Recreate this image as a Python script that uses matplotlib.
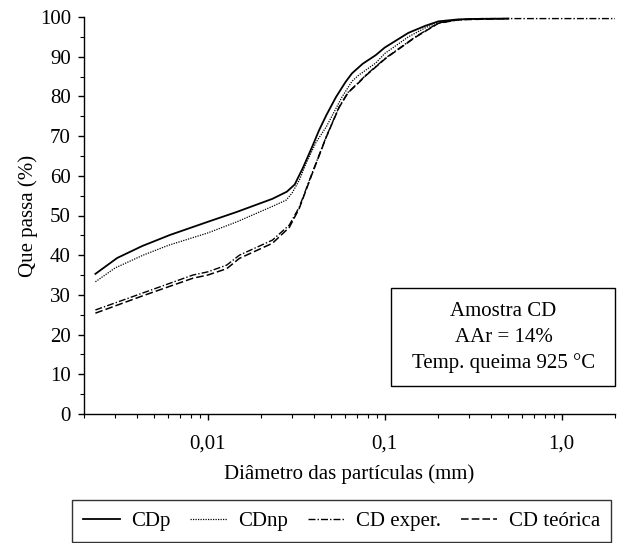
import matplotlib
matplotlib.use("Agg")
import matplotlib.pyplot as plt
from matplotlib.ticker import LogLocator, MultipleLocator, NullFormatter
from matplotlib.patches import Rectangle

plt.rcParams['font.family'] = ['Liberation Serif', 'DejaVu Serif']
plt.rcParams['font.size'] = 15

# Curvas granulométricas - amostra CD (diâmetro em mm, % que passa)
d_cdp = [0.00232, 0.00308, 0.00426, 0.00612, 0.0100, 0.0146, 0.0232, 0.0280, 0.0310,
         0.0345, 0.0389, 0.0426, 0.0467, 0.0530, 0.0600, 0.0653, 0.0750, 0.089, 0.100,
         0.136, 0.170, 0.201, 0.260, 0.308, 0.5]
p_cdp = [35.3, 39.3, 42.3, 45.1, 48.4, 50.9, 54.2, 56.0, 57.8,
         62.0, 67.3, 71.5, 75.2, 79.8, 83.6, 85.8, 88.2, 90.4, 92.3,
         96.0, 97.8, 98.9, 99.4, 99.5, 99.6]

d_cdnp = [0.00232, 0.00300, 0.00431, 0.0060, 0.0100, 0.0146, 0.0232, 0.0278, 0.0300,
          0.0330, 0.0360, 0.0410, 0.0467, 0.0573, 0.0653, 0.0715, 0.089, 0.100,
          0.136, 0.170, 0.201, 0.30, 0.5]
p_cdnp = [33.3, 36.8, 40.0, 42.5, 45.6, 48.4, 52.3, 53.9, 55.7,
          59.0, 63.2, 68.5, 72.3, 79.8, 83.8, 85.4, 88.4, 90.8,
          95.0, 97.3, 98.7, 99.5, 99.6]

d_exp = [0.00232, 0.00431, 0.00824, 0.0100, 0.0128, 0.0151, 0.0232, 0.0289, 0.0329,
         0.0389, 0.0467, 0.0552, 0.0620, 0.0715, 0.078, 0.1014, 0.149, 0.201, 0.26,
         0.35, 2.0]
p_exp = [26.2, 30.5, 35.0, 35.8, 37.5, 40.0, 43.8, 47.6, 52.1,
         60.7, 69.8, 77.3, 81.0, 83.6, 85.3, 89.7, 95.0, 98.5, 99.3,
         99.6, 99.6]

d_teo = [0.00232, 0.00431, 0.00824, 0.0100, 0.0128, 0.0151, 0.0232, 0.0289, 0.0329,
         0.0389, 0.0467, 0.0552, 0.0620, 0.0715, 0.078, 0.1014, 0.149, 0.201, 0.26,
         0.5]
p_teo = [25.4, 29.8, 34.2, 35.0, 36.6, 39.2, 43.0, 47.0, 51.8,
         60.5, 69.7, 77.2, 80.9, 83.5, 85.2, 89.6, 94.9, 98.4, 99.3,
         99.6]

x_ticks = [0.01, 0.1, 1.0]
x_tick_labels = ['0,01', '0,1', '1,0']

fig = plt.figure(figsize=(6.2, 5.43), dpi=100)
ax = fig.add_axes([84 / 620, 1 - 414 / 543, 531 / 620, 397 / 543])

ax.plot(d_cdp, p_cdp, color='black', lw=1.3, ls='-', label='CDp')
ax.plot(d_cdnp, p_cdnp, color='black', lw=0.9, ls=(0, (1, 1)), label='CDnp')
ax.plot(d_exp, p_exp, color='black', lw=1.0, ls=(0, (5, 1.5, 1, 1.5)), label='CD exper.')
ax.plot(d_teo, p_teo, color='black', lw=1.1, ls=(0, (5, 2)), label='CD teórica')

ax.set_xscale('log')
ax.set_xlim(0.002, 2.0)
ax.set_ylim(0, 100)
ax.set_xticks(x_ticks)
ax.set_xticklabels(x_tick_labels)
ax.xaxis.set_minor_locator(LogLocator(base=10, subs=range(2, 10)))
ax.xaxis.set_minor_formatter(NullFormatter())
ax.yaxis.set_major_locator(MultipleLocator(10))
ax.yaxis.set_minor_locator(MultipleLocator(5))

for side in ('top', 'right'):
    ax.spines[side].set_visible(False)
for side in ('left', 'bottom'):
    ax.spines[side].set_linewidth(1.0)
ax.tick_params(which='major', direction='out', length=4.5, width=1.0, pad=5)
ax.tick_params(which='minor', direction='out', length=3, width=0.8)
ax.tick_params(axis='x', which='major', pad=10)

ax.set_xlabel('Diâmetro das partículas (mm)', labelpad=8)
ax.set_ylabel('Que passa (%)', labelpad=1)

# Caixa com a identificação da amostra
ax.add_patch(Rectangle((0.578, 0.0705), 0.422, 0.2465, transform=ax.transAxes,
                       fill=False, edgecolor='black', lw=1.0, clip_on=False))
info = ['Amostra CD', 'AAr = 14%', 'Temp. queima 925 °C']
for i, line in enumerate(info):
    ax.text(0.79, 0.257 - i * 0.064, line, transform=ax.transAxes,
            ha='center', va='center')

leg = fig.legend(loc='center', bbox_to_anchor=(341.5 / 620, 1 - 521 / 543),
                 ncol=4, frameon=True, fancybox=False, edgecolor='black',
                 handlelength=1.75, handletextpad=0.55, columnspacing=0.95,
                 borderpad=0.55, borderaxespad=0)
leg.get_frame().set_linewidth(1.0)

fig.savefig('out.png', dpi=100)
